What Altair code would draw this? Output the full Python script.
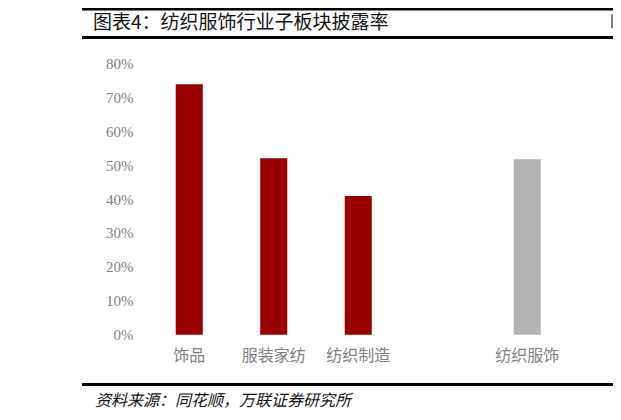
import altair as alt
import pandas as pd

categories = ["饰品", "服装家纺", "纺织制造", "纺织服饰"]
values = [0.738, 0.520, 0.409, 0.517]
groups = ["子板块", "子板块", "子板块", "行业"]
axis_domain = ["饰品", "服装家纺", "纺织制造", " ", "纺织服饰"]
y_ticks = [0, 0.1, 0.2, 0.3, 0.4, 0.5, 0.6, 0.7, 0.8]

title_text = "图表4：纺织服饰行业子板块披露率"
source_text = "资料来源：同花顺，万联证券研究所"

df = pd.DataFrame({"cat": categories, "val": values, "grp": groups})
one = pd.DataFrame({"a": [0]})

W, H = 422.5, 271.4

bars = alt.Chart(df).mark_bar().encode(
    x=alt.X("cat:N", sort=axis_domain,
            scale=alt.Scale(domain=axis_domain, paddingInner=0.68, paddingOuter=0.34),
            axis=alt.Axis(title=None, labelAngle=0, ticks=False, domain=False,
                          labelPadding=13, labelFontSize=16, labelColor="#7f7f7f",
                          labelFont="Noto Sans CJK SC")),
    y=alt.Y("val:Q", scale=alt.Scale(domain=[0, 0.8], nice=False),
            axis=alt.Axis(title=None, values=y_ticks, format=".0%", ticks=False,
                          domain=False, grid=False, labelPadding=14, labelFontSize=15,
                          labelColor="#7f7f7f", labelFont="Liberation Serif")),
    color=alt.Color("grp:N", scale=alt.Scale(domain=["子板块", "行业"],
                                             range=["#990000", "#b3b3b3"]), legend=None),
)

def hrule(yv, sw=3):
    return alt.Chart(one).mark_rule(color="#000000", strokeWidth=sw).encode(
        x=alt.value(-65), x2=alt.value(467), y=alt.value(yv))

top_line = hrule(-54.1, 2.4)
title_line = hrule(-25.8)
bottom_line = hrule(321.2)

edge_mark = alt.Chart(one).mark_rule(color="#555555", strokeWidth=1.5).encode(
    x=alt.value(465), y=alt.value(-49), y2=alt.value(-35))

title = alt.Chart(one).mark_text(align="left", baseline="alphabetic", fontSize=19,
                                 font="Noto Sans CJK SC", color="#111111").encode(
    x=alt.value(-54), y=alt.value(-34.5), text=alt.value(title_text))

source = alt.Chart(one).mark_text(align="left", baseline="alphabetic", fontSize=16,
                                  font="Noto Sans CJK SC", fontStyle="italic",
                                  color="#111111").encode(
    x=alt.value(-52), y=alt.value(343), text=alt.value(source_text))

chart = alt.layer(bars, top_line, title_line, bottom_line, edge_mark, title, source).properties(
    width=W, height=H,
    autosize=alt.AutoSizeParams(type="none"),
    padding={"left": 139, "top": 55.3, "right": 43.5, "bottom": 77.3},
).configure_view(stroke=None)

chart.save("out.html", embed_options={"renderer": "svg", "actions": False})
